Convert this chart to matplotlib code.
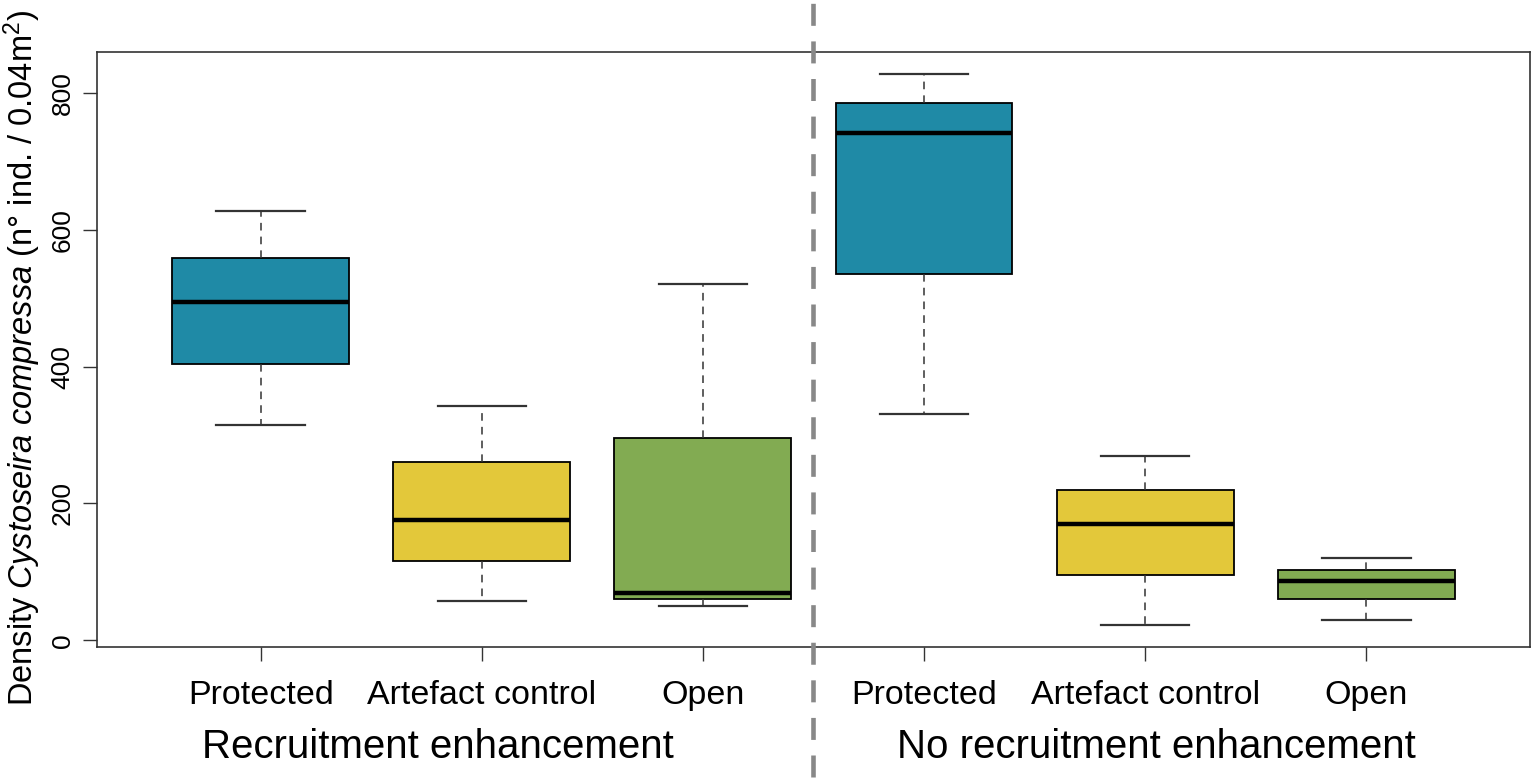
import matplotlib
matplotlib.use('Agg')
import matplotlib.pyplot as plt

plt.rcParams['font.family'] = ['Liberation Sans', 'DejaVu Sans']
plt.rcParams['mathtext.fontset'] = 'custom'
plt.rcParams['mathtext.rm'] = 'Liberation Sans'
plt.rcParams['mathtext.it'] = 'Liberation Sans:italic'

# ----------------------------------------------------------------------
# Data
# ----------------------------------------------------------------------
treatments = ['Protected', 'Artefact control', 'Open',
              'Protected', 'Artefact control', 'Open']
groups = ['Recruitment enhancement', 'No recruitment enhancement']

whis_lo = [314, 57, 50, 330, 22, 29]
q1      = [404, 116, 60, 536, 95, 60]
median  = [495, 175, 69, 741, 170, 87]
q3      = [559, 260, 295, 785, 220, 103]
whis_hi = [627, 343, 521, 828, 270, 120]

colors = ['#1f8aa6', '#e3c83a', '#82ab52', '#1f8aa6', '#e3c83a', '#82ab52']

# ----------------------------------------------------------------------
fig = plt.figure(figsize=(15.35, 7.79), dpi=100)
ax = fig.add_axes([0.0632, 0.1694, 0.9335, 0.7639])

stats = [dict(med=m, q1=a, q3=b, whislo=lo, whishi=hi, fliers=[])
         for m, a, b, lo, hi in zip(median, q1, q3, whis_lo, whis_hi)]
pos = list(range(1, len(stats) + 1))

bp = ax.bxp(stats, positions=pos, widths=0.8, patch_artist=True,
            showfliers=False,
            boxprops=dict(edgecolor='black', linewidth=1.3),
            medianprops=dict(color='black', linewidth=3.2),
            whiskerprops=dict(color='#333333', linewidth=1.1, linestyle=(0, (5, 4))),
            capprops=dict(color='#333333', linewidth=1.6),
            capwidths=0.4)
for patch, c in zip(bp['boxes'], colors):
    patch.set_facecolor(c)

ax.set_xlim(0.26, 6.74)
ax.set_ylim(-10, 860)

# separator between the two groups, running through the whole figure
ax.plot([3.5, 3.5], [-200, 1000], color='#888888', lw=3.3,
        linestyle=(0, (4.8, 3.4)), clip_on=False, zorder=5)

ax.set_xticks(pos)
ax.set_xticklabels(treatments, fontsize=24.5)
ax.set_yticks([0, 200, 400, 600, 800])
ax.set_yticklabels(['0', '200', '400', '600', '800'], fontsize=19,
                   rotation=90, va='center')
ax.tick_params(axis='both', length=10, width=1, color='#333333')
ax.tick_params(axis='x', pad=14)
ax.tick_params(axis='y', pad=6)
for s in ax.spines.values():
    s.set_linewidth(1.2)
    s.set_color('#333333')

fig.text(22 / 1535, 1 - 358 / 779,
         r'Density $\it{Cystoseira\ compressa}$ (n° ind. / 0.04m$^2$)',
         rotation=90, ha='center', va='center', fontsize=23.5)

ax.text(1.80, -0.168, groups[0], transform=ax.get_xaxis_transform(),
        ha='center', va='center', fontsize=29)
ax.text(5.05, -0.168, groups[1], transform=ax.get_xaxis_transform(),
        ha='center', va='center', fontsize=29)

fig.savefig('out.png', dpi=100)
